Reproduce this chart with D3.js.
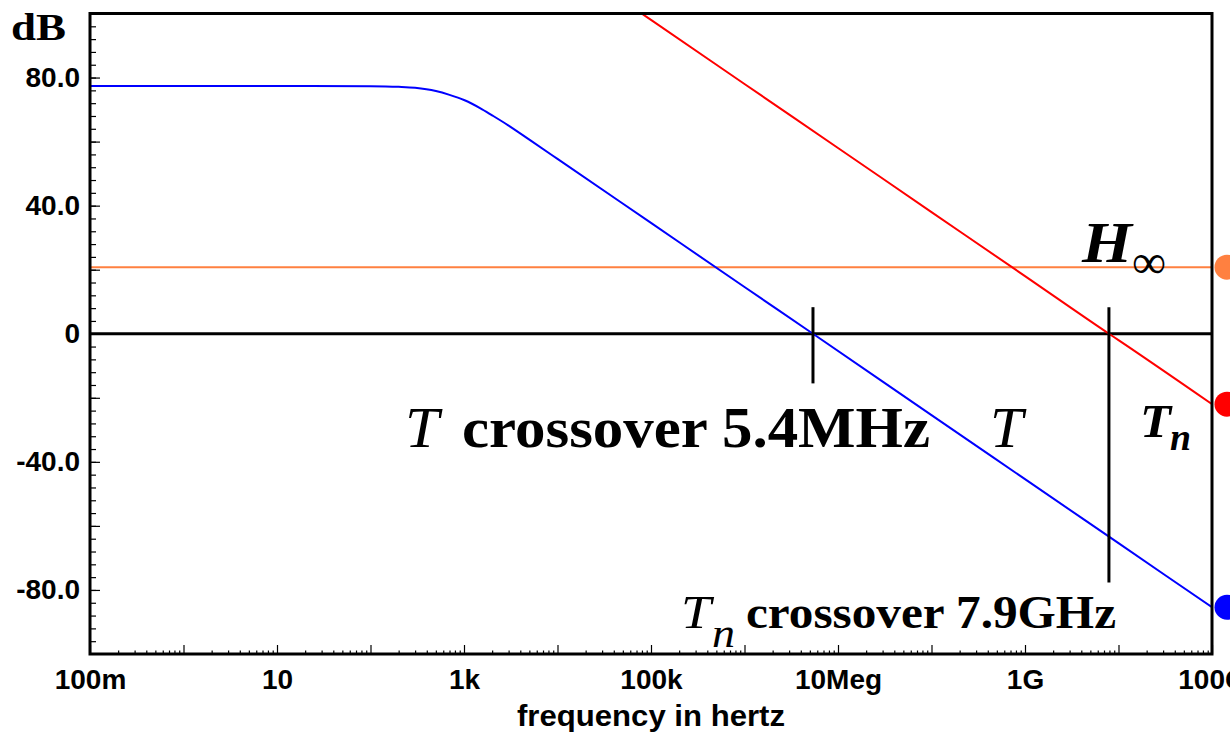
<!DOCTYPE html>
<html>
<head>
<meta charset="utf-8">
<script src="https://cdn.jsdelivr.net/npm/d3@7"></script>
<style>
  body { margin: 0; background: #fff; }
  .tick text { font-family: "Liberation Sans", Arial, sans-serif; font-weight: bold; font-size: 28px; fill: #000; }
  .serif { font-family: "Liberation Serif", "Times New Roman", serif; fill: #000; }
</style>
</head>
<body>
<div id="chart"></div>
<script>
// loop gain T (blue)
const freqT = [0.1, 10, 100, 200, 300, 500, 700, 1e3, 1.5e3, 2e3, 3e3, 5e3, 1e4, 1e5, 1e6, 5.4e6, 1e8, 1e9, 1e10, 1e11];
const dbT = [77.4, 77.4, 77.3, 77.1, 76.8, 75.8, 74.6, 73.0, 70.4, 68.2, 65.0, 60.6, 54.6, 34.6, 14.6, 0, -25.4, -45.4, -65.4, -85.4];

// null loop gain Tn (red)
const freqTn = [3e4, 1e5, 1e6, 1e7, 1e8, 1e9, 7.9e9, 1e10, 1e11];
const dbTn = [108.4, 98.0, 78.0, 58.0, 38.0, 18.0, 0, -2.0, -22.0];

// H infinity level (orange)
const freqH = [0.1, 1e11];
const dbH = [20.8, 20.8];

// crossover markers
const crossFreq = [5.4e6, 7.9e9];
const crossTop = [8.3, 8.3];
const crossBottom = [-15.5, -77.7];

// axis ticks
const xLabelValues = [0.1, 10, 1e3, 1e5, 1e7, 1e9, 1e11];
const xLabelText = ["100m", "10", "1k", "100k", "10Meg", "1G", "100G"];
const yLabelValues = [80, 40, 0, -40, -80];

const width = 1230, height = 735;
const margin = {top: 13.5, right: 18, bottom: 81, left: 90};

const svg = d3.select("#chart")
  .append("svg")
  .attr("width", width)
  .attr("height", height);

const x = d3.scaleLog()
  .domain([0.1, 1e11])
  .range([margin.left, width - margin.right]);

const y = d3.scaleLinear()
  .domain([-100, 100])
  .range([height - margin.bottom, margin.top]);

const plotH = y(-100);

svg.append("defs").append("clipPath")
  .attr("id", "plotclip")
  .append("rect")
  .attr("x", x(0.1))
  .attr("y", y(100))
  .attr("width", x(1e11) - x(0.1))
  .attr("height", y(-100) - y(100));

// x axis: minor ticks 2..9 in each decade
const decades = d3.range(-1, 12).map(e => Math.pow(10, e));
const minorX = [];
decades.slice(0, -1).forEach(d => {
  for (let k = 2; k <= 9; k++) minorX.push(d * k);
});

svg.append("g")
  .attr("transform", `translate(0,${plotH})`)
  .call(d3.axisBottom(x).tickValues(minorX).tickSize(-3.5).tickFormat(""))
  .call(g => g.select(".domain").remove())
  .selectAll("line").attr("stroke", "#000").attr("stroke-width", 1.2);

svg.append("g")
  .attr("transform", `translate(0,${plotH})`)
  .call(d3.axisBottom(x).tickValues(decades).tickSize(-9).tickPadding(15)
    .tickFormat(d => {
      const i = xLabelValues.findIndex(v => Math.abs(Math.log10(v) - Math.log10(d)) < 1e-6);
      return i >= 0 ? xLabelText[i] : "";
    }))
  .call(g => g.select(".domain").remove())
  .selectAll("line").attr("stroke", "#000").attr("stroke-width", 1.2);

// y axis: minor every 4 dB, major every 20 dB, labels every 40 dB
svg.append("g")
  .attr("transform", `translate(${margin.left},0)`)
  .call(d3.axisLeft(y).tickValues(d3.range(-96, 100, 4)).tickSize(-6).tickFormat(""))
  .call(g => g.select(".domain").remove())
  .selectAll("line").attr("stroke", "#000").attr("stroke-width", 1.2);

svg.append("g")
  .attr("transform", `translate(${margin.left},0)`)
  .call(d3.axisLeft(y).tickValues(d3.range(-80, 100, 20)).tickSize(-10).tickPadding(10)
    .tickFormat(d => yLabelValues.includes(d) ? (d === 0 ? "0" : d.toFixed(1)) : ""))
  .call(g => g.select(".domain").remove())
  .selectAll("line").attr("stroke", "#000").attr("stroke-width", 1.2);

// axis title
svg.append("text")
  .attr("x", (x(0.1) + x(1e11)) / 2)
  .attr("y", 726)
  .attr("text-anchor", "middle")
  .attr("textLength", 268)
  .attr("lengthAdjust", "spacingAndGlyphs")
  .style("font-family", "Liberation Sans, Arial, sans-serif")
  .style("font-weight", "bold")
  .style("font-size", "29px")
  .text("frequency in hertz");

svg.append("text")
  .attr("class", "serif")
  .attr("x", 11)
  .attr("y", 40)
  .attr("textLength", 55)
  .attr("lengthAdjust", "spacingAndGlyphs")
  .style("font-weight", "bold")
  .style("font-size", "38px")
  .text("dB");

// curves
const plot = svg.append("g").attr("clip-path", "url(#plotclip)");

const line = d3.line()
  .x(d => x(d[0]))
  .y(d => y(d[1]))
  .curve(d3.curveMonotoneX);

// zero line
plot.append("line")
  .attr("x1", x(0.1)).attr("x2", x(1e11))
  .attr("y1", y(0)).attr("y2", y(0))
  .attr("stroke", "#000").attr("stroke-width", 3);

const series = [
  {f: freqH, db: dbH, color: "#ff8040"},
  {f: freqTn, db: dbTn, color: "#ff0000"},
  {f: freqT, db: dbT, color: "#0000ff"}
];

series.forEach(s => {
  plot.append("path")
    .datum(s.f.map((f, i) => [f, s.db[i]]))
    .attr("d", line)
    .attr("fill", "none")
    .attr("stroke", s.color)
    .attr("stroke-width", 2);
});

// crossover markers
crossFreq.forEach((f, i) => {
  svg.append("line")
    .attr("x1", x(f)).attr("x2", x(f))
    .attr("y1", y(crossTop[i])).attr("y2", y(crossBottom[i]))
    .attr("stroke", "#000").attr("stroke-width", 3);
});

// frame
svg.append("rect")
  .attr("x", x(0.1))
  .attr("y", y(100))
  .attr("width", x(1e11) - x(0.1))
  .attr("height", y(-100) - y(100))
  .attr("fill", "none")
  .attr("stroke", "#000")
  .attr("stroke-width", 3);

// end markers
series.forEach(s => {
  svg.append("circle")
    .attr("cx", x(1e11) + 15)
    .attr("cy", y(s.db[s.db.length - 1]))
    .attr("r", 12.5)
    .attr("fill", s.color);
});

// annotations
function serifText(txt, px, py, size, opts) {
  const t = svg.append("text")
    .attr("class", "serif")
    .attr("x", px)
    .attr("y", py)
    .style("font-size", size + "px")
    .style("font-style", opts.italic ? "italic" : "normal")
    .style("font-weight", opts.bold ? "bold" : "normal")
    .text(txt);
  if (opts.len) t.attr("textLength", opts.len).attr("lengthAdjust", "spacingAndGlyphs");
  return t;
}

serifText("T", 405, 447, 56, {italic: true, len: 34});
serifText("crossover 5.4MHz", 462, 447, 56, {bold: true, len: 468});
serifText("T", 990, 447, 56, {italic: true, len: 33});

serifText("T", 1140, 437, 46, {italic: true, bold: true, len: 31});
serifText("n", 1170, 450, 38, {italic: true, bold: true, len: 21});

serifText("H", 1082, 262, 58, {italic: true, bold: true, len: 50});
serifText("\u221E", 1132, 278, 48, {len: 34});

serifText("T", 681, 628, 46, {italic: true, len: 30});
serifText("n", 712, 647, 40, {italic: true, len: 23});
serifText("crossover 7.9GHz", 746, 628, 46, {bold: true, len: 370});
</script>
</body>
</html>
